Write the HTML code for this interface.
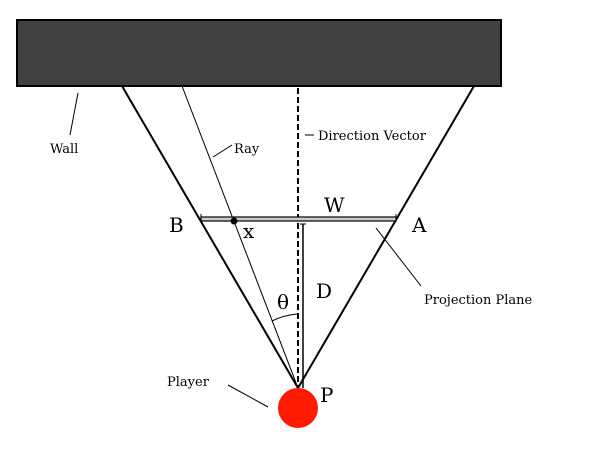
<!DOCTYPE html>
<html><head><meta charset="utf-8"><style>
body{margin:0;background:#fff}
svg text{font-family:"DejaVu Serif","Liberation Serif",serif;fill:#000}
.s{font-size:13px}.b{font-size:20px}
</style></head><body>
<svg width="605" height="452" viewBox="0 0 605 452">
<rect x="17" y="20" width="484" height="66" fill="#404040" stroke="#000" stroke-width="2"/>
<line x1="122" y1="86" x2="298" y2="388" stroke="#000" stroke-width="2"/>
<line x1="474" y1="86" x2="298" y2="388" stroke="#000" stroke-width="2"/>
<line x1="182" y1="86" x2="298" y2="388" stroke="#000" stroke-width="1"/>
<line x1="298" y1="88" x2="298" y2="388" stroke="#000" stroke-width="2" stroke-dasharray="6,3"/>
<rect x="201" y="217" width="195" height="4" fill="#ccc" stroke="#000" stroke-width="1.2"/>
<line x1="201" y1="214" x2="201" y2="220" stroke="#000" stroke-width="1"/>
<line x1="396" y1="214" x2="396" y2="220" stroke="#000" stroke-width="1"/>
<line x1="303" y1="224" x2="303" y2="388" stroke="#000" stroke-width="1.5"/>
<line x1="300" y1="224" x2="306" y2="224" stroke="#000" stroke-width="1"/>
<circle cx="234" cy="221" r="3.5" fill="#000"/>
<path d="M272 321 A70 70 0 0 1 297 314" fill="none" stroke="#000" stroke-width="1"/>
<circle cx="298" cy="408" r="20" fill="#ff1a00"/>
<line x1="78" y1="93" x2="70" y2="135" stroke="#000" stroke-width="1"/>
<line x1="213" y1="157" x2="232" y2="145" stroke="#000" stroke-width="1"/>
<line x1="305" y1="135" x2="314" y2="135" stroke="#000" stroke-width="1"/>
<line x1="376" y1="228" x2="421" y2="286" stroke="#000" stroke-width="1"/>
<line x1="228" y1="385" x2="268" y2="407" stroke="#000" stroke-width="1"/>
<text class="s" x="50" y="153">Wall</text>
<text class="s" x="234" y="153">Ray</text>
<text class="s" x="318" y="140">Direction Vector</text>
<text class="s" x="424" y="304">Projection Plane</text>
<text class="s" x="167" y="386">Player</text>
<text class="b" x="169" y="232">B</text>
<text class="b" x="412" y="232">A</text>
<text class="b" x="324" y="212">W</text>
<text class="b" x="243" y="238">x</text>
<text class="b" x="316" y="298">D</text>
<text class="b" x="277" y="309">θ</text>
<text class="b" x="320" y="402">P</text>
</svg>
</body></html>
